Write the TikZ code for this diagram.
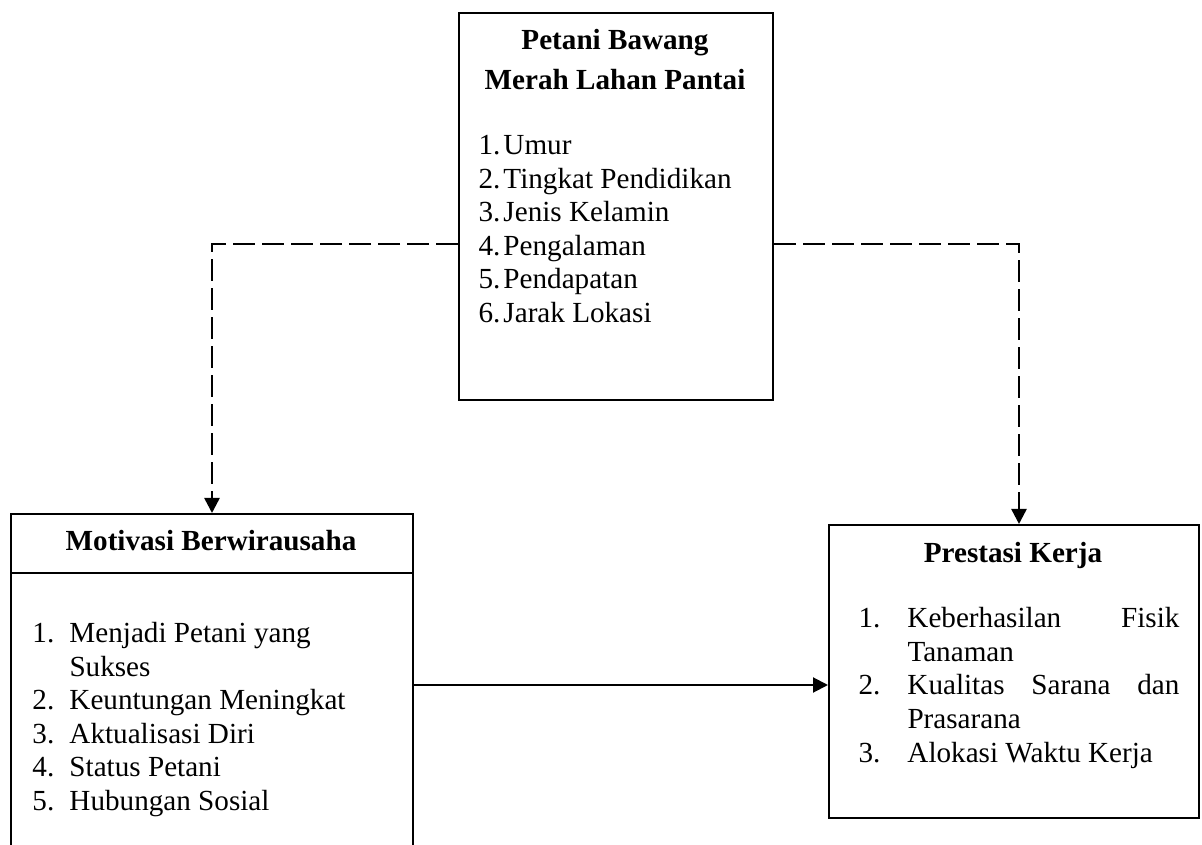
\documentclass[tikz,border=0pt]{standalone}
\usepackage{fontspec}
\setmainfont{Liberation Serif}
\usetikzlibrary{arrows.meta, calc, positioning}

\begin{document}
\begin{tikzpicture}[
        x=0.4pt, y=-0.4pt,
        every node/.style = {font=\fontsize{11.66}{13.4}\selectfont},
        box/.style = {draw, line width=0.8pt, anchor=north west, inner sep=0pt},
        head/.style = {font=\fontsize{11.66}{13.4}\selectfont\bfseries, anchor=base, inner sep=0pt},
        items/.style = {anchor=base west, inner sep=0pt},
        line/.style = {draw, line width=0.8pt, -{Triangle[width=6pt, length=6pt]}},
        dashline/.style = {line, line width=1pt, dash pattern=on 8.8pt off 2.8pt}
    ]
        \clip (0,0) rectangle (1202,845);

        % Boxes
        \node (petani) [box, minimum width=125.6pt, minimum height=154.8pt] at (458,12) {};
        \node (motivasi) [box, minimum width=160.8pt, minimum height=136.8pt] at (10,513) {};
        \node (prestasi) [box, minimum width=148pt, minimum height=117.2pt] at (828,524) {};
        \draw [line width=0.8pt] ([yshift=-24pt]motivasi.north west) -- ([yshift=-24pt]motivasi.north east);

        % Petani
        \node (petani_head) [head] at (615,50) {\begin{tabular}[t]{@{}c@{}}Petani Bawang\\[2.6pt] Merah Lahan Pantai\end{tabular}};
        \node (petani_list) [items] at (478,155) {\begin{tabular}[t]{@{}p{10pt}@{}l@{}}
            1. & Umur\\
            2. & Tingkat Pendidikan\\
            3. & Jenis Kelamin\\
            4. & Pengalaman\\
            5. & Pendapatan\\
            6. & Jarak Lokasi
        \end{tabular}};

        % Motivasi
        \node (motivasi_head) [head] at (211,551) {Motivasi Berwirausaha};
        \node (motivasi_list) [items] at (32,643) {\begin{tabular}[t]{@{}p{14.8pt}@{}l@{}}
            1. & Menjadi Petani yang\\
               & Sukses\\
            2. & Keuntungan Meningkat\\
            3. & Aktualisasi Diri\\
            4. & Status Petani\\
            5. & Hubungan Sosial
        \end{tabular}};

        % Prestasi
        \node (prestasi_head) [head] at (1013,563) {Prestasi Kerja};
        \node (prestasi_list) [items] at (858,628) {\begin{tabular}[t]{@{}p{19.6pt}@{}p{108.8pt}@{}}
            1. & Keberhasilan\hfill Fisik\\
               & Tanaman\\
            2. & Kualitas\hfill Sarana\hfill dan\\
               & Prasarana\\
            3. & Alokasi Waktu Kerja
        \end{tabular}};

        % Connectors
        \coordinate (split) at (0,244);
        \draw [dashline] (petani.west |- split) -| (motivasi.north);
        \draw [dashline] (petani.east |- split) -| ([xshift=2pt]prestasi.north);
        \draw [line] (motivasi.east) -- (motivasi.east -| prestasi.west);
    \end{tikzpicture}
\end{document}
